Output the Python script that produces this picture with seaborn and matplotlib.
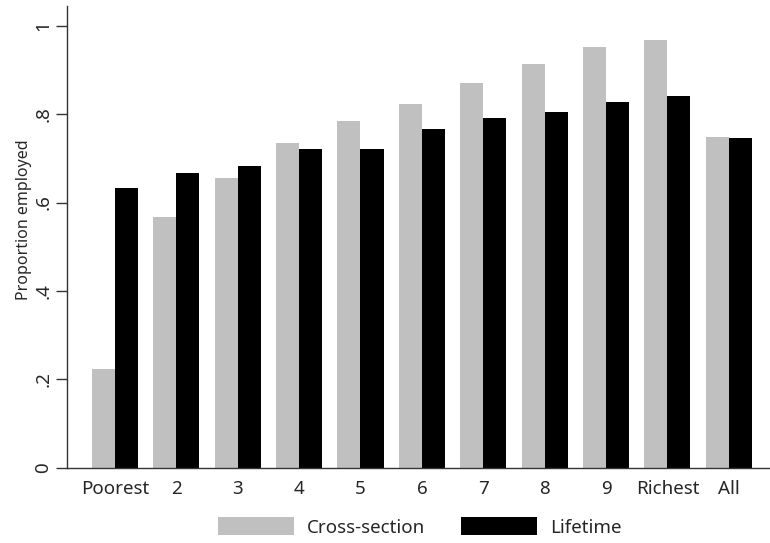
import pandas as pd
import matplotlib
matplotlib.use('Agg')
import matplotlib.pyplot as plt
import seaborn as sns

# values
groups = ['Poorest', '2', '3', '4', '5', '6', '7', '8', '9', 'Richest', 'All']
cross_section = [0.223, 0.567, 0.656, 0.735, 0.785, 0.823, 0.871, 0.914, 0.952, 0.968, 0.749]
lifetime = [0.634, 0.666, 0.683, 0.721, 0.721, 0.767, 0.792, 0.805, 0.828, 0.841, 0.746]
series = ['Cross-section', 'Lifetime']
y_ticks = [0, 0.2, 0.4, 0.6, 0.8, 1]
y_tick_labels = ['0', '.2', '.4', '.6', '.8', '1']

df = pd.DataFrame({'group': groups, 'Cross-section': cross_section, 'Lifetime': lifetime})
df = df.melt(id_vars='group', var_name='measure', value_name='prop')

sns.set_style('white')
plt.rcParams['font.family'] = ['Noto Sans', 'DejaVu Sans']

fig = plt.figure(figsize=(7.7, 5.43), dpi=100)
ax = fig.add_axes([67 / 770, 75.5 / 543, 703 / 770, 461.5 / 543])

sns.barplot(data=df, x='group', y='prop', hue='measure', hue_order=series,
            palette=['#c0c0c0', '#000000'], width=0.75, saturation=1,
            linewidth=0, ax=ax)

ax.set_xlim(-0.78, 10.67)
ax.set_ylim(0, 1.045)
ax.set_yticks(y_ticks)
ax.set_yticklabels(y_tick_labels, rotation=90, va='center')
ax.tick_params(axis='y', length=8, width=1, pad=2.5, labelsize=13.5, color='#333333', left=True)
ax.tick_params(axis='x', length=0, pad=9, labelsize=13.5)
for s in ['top', 'right']:
    ax.spines[s].set_visible(False)
for s in ['left', 'bottom']:
    ax.spines[s].set_color('#333333')
    ax.spines[s].set_linewidth(1)

ax.set_xlabel('')
ax.set_ylabel('Proportion employed', fontsize=11.5)
ax.yaxis.set_label_coords(-0.05, 0.536)

handles, labels = ax.get_legend_handles_labels()
ax.get_legend().remove()
fig.legend(handles, labels, loc='center', bbox_to_anchor=(0.545, 0.0295), ncol=2,
           frameon=False, handlelength=4.07, handleheight=1.07, handletextpad=0.7,
           columnspacing=1.87, fontsize=13.5)

fig.savefig('out.png', dpi=100)
